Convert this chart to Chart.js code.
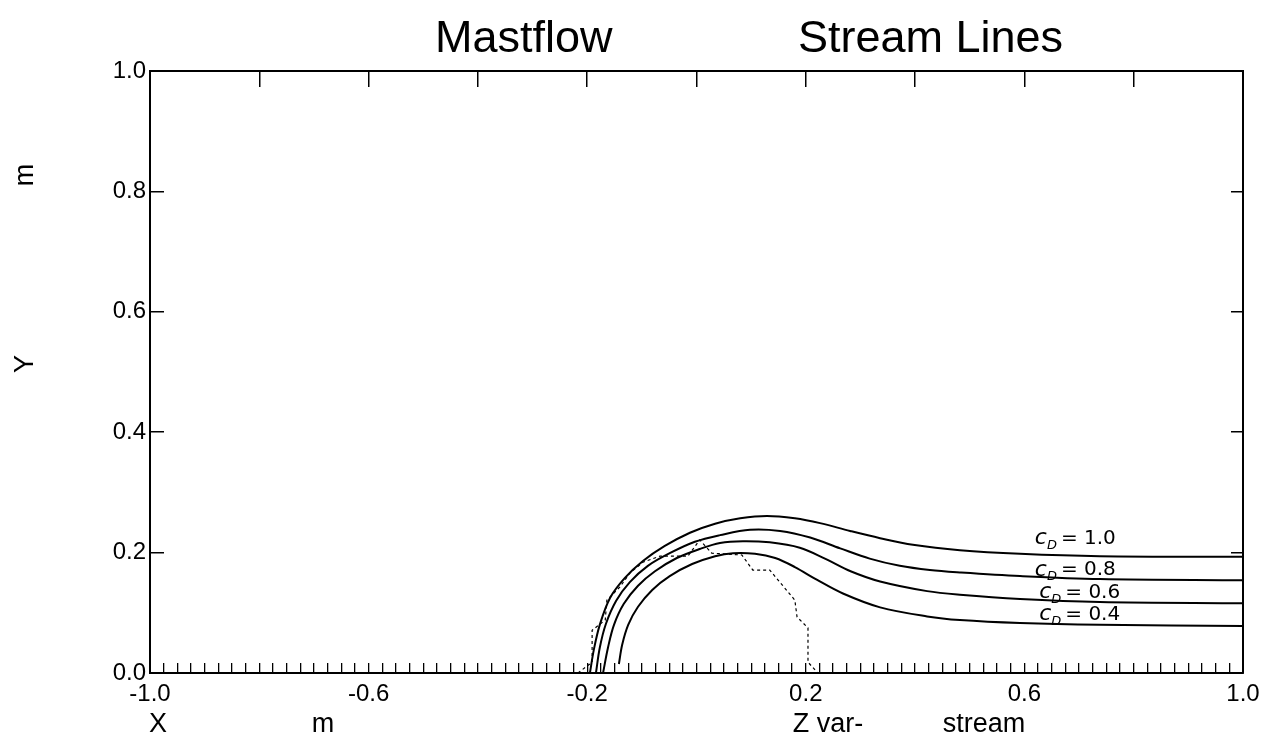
<!DOCTYPE html>
<html>
<head>
<meta charset="utf-8">
<script src="https://cdn.jsdelivr.net/npm/chart.js@4.4.1/dist/chart.umd.min.js"></script>
<style>
  html, body { margin: 0; padding: 0; background: #fff; }
  canvas { display: block; }
</style>
</head>
<body>
<canvas id="stream-chart" width="1270" height="742"></canvas>
<script>
// stream lines (x, y in metres)
const seriesNames = ["1.0", "0.8", "0.6", "0.4"];

const line1X = [-0.195, -0.188, -0.177, -0.158, -0.131, -0.098, -0.058, -0.012, 0.034, 0.080, 0.129, 0.180, 0.226, 0.281, 0.336, 0.396, 0.482, 0.592, 0.738, 1.0];
const line1Y = [0.0, 0.038, 0.080, 0.125, 0.158, 0.186, 0.211, 0.233, 0.248, 0.257, 0.261, 0.257, 0.249, 0.236, 0.224, 0.213, 0.204, 0.198, 0.194, 0.193];

const line2X = [-0.184, -0.177, -0.166, -0.147, -0.122, -0.089, -0.049, -0.003, 0.043, 0.098, 0.153, 0.208, 0.263, 0.317, 0.372, 0.427, 0.482, 0.592, 0.738, 1.0];
const line2Y = [0.0, 0.042, 0.081, 0.120, 0.151, 0.178, 0.199, 0.218, 0.229, 0.238, 0.236, 0.225, 0.207, 0.190, 0.178, 0.171, 0.167, 0.161, 0.156, 0.154];

const line3X = [-0.171, -0.162, -0.151, -0.133, -0.107, -0.076, -0.036, 0.006, 0.043, 0.085, 0.134, 0.189, 0.235, 0.282, 0.336, 0.422, 0.482, 0.592, 0.738, 1.0];
const line3Y = [0.0, 0.042, 0.080, 0.115, 0.145, 0.169, 0.191, 0.206, 0.216, 0.219, 0.217, 0.208, 0.190, 0.169, 0.152, 0.136, 0.130, 0.123, 0.118, 0.116];

const line4X = [-0.142, -0.136, -0.125, -0.107, -0.081, -0.049, -0.008, 0.034, 0.067, 0.107, 0.144, 0.180, 0.220, 0.268, 0.336, 0.422, 0.482, 0.592, 0.738, 1.0];
const line4Y = [0.015, 0.047, 0.080, 0.110, 0.138, 0.161, 0.181, 0.194, 0.199, 0.198, 0.191, 0.176, 0.155, 0.132, 0.109, 0.094, 0.088, 0.083, 0.080, 0.078];

// dashed outline under the stream lines
const dashX = [-0.217, -0.191, -0.191, -0.167, -0.164, -0.140, -0.122, -0.098, -0.067, -0.016, 0.006, 0.028, 0.083, 0.103, 0.134, 0.180, 0.184, 0.204, 0.204, 0.222];
const dashY = [0.0, 0.018, 0.071, 0.088, 0.121, 0.143, 0.166, 0.184, 0.194, 0.194, 0.221, 0.199, 0.196, 0.171, 0.171, 0.121, 0.093, 0.075, 0.018, 0.0];

// where the hand-written labels sit (data coordinates)
const labelX = [0.619, 0.619, 0.627, 0.627];
const labelY = [0.223, 0.171, 0.134, 0.097];

const xTickLabels = ["-1.0", "-0.6", "-0.2", "0.2", "0.6", "1.0"];
const yTickLabels = ["0.0", "0.2", "0.4", "0.6", "0.8", "1.0"];

const toPoints = (xs, ys) => xs.map((x, i) => ({ x: x, y: ys[i] }));

const streamLines = [
  toPoints(line1X, line1Y),
  toPoints(line2X, line2Y),
  toPoints(line3X, line3Y),
  toPoints(line4X, line4Y),
];

Chart.defaults.font.family = "'Liberation Sans', Arial, Helvetica, sans-serif";
Chart.defaults.color = "#000";

const datasets = streamLines.map((pts, i) => ({
  label: "cD = " + seriesNames[i],
  data: pts,
  borderColor: "#000",
  borderWidth: 2,
  pointRadius: 0,
  showLine: true,
  tension: 0.35,
}));

datasets.push({
  label: "outline",
  data: toPoints(dashX, dashY),
  borderColor: "#000",
  borderWidth: 1.2,
  borderDash: [3, 3],
  pointRadius: 0,
  showLine: true,
  tension: 0,
});

const textPlugin = {
  id: "plotText",
  afterDraw(chart) {
    const ctx = chart.ctx;
    const xs = chart.scales.x;
    const ys = chart.scales.y;
    ctx.save();
    ctx.fillStyle = "#000";
    ctx.textBaseline = "alphabetic";
    ctx.textAlign = "left";

    ctx.font = "45px 'Liberation Sans', Arial, sans-serif";
    ctx.fillText("Mastflow", 435, 52);
    ctx.fillText("Stream Lines", 798, 52);

    ctx.font = "27px 'Liberation Sans', Arial, sans-serif";
    ctx.textAlign = "center";
    ctx.fillText("X", 158, 732);
    ctx.fillText("m", 323, 732);
    ctx.fillText("Z var-", 828, 732);
    ctx.fillText("stream", 984, 732);

    ctx.save();
    ctx.translate(33, 0);
    ctx.rotate(-Math.PI / 2);
    ctx.fillText("m", -175, 0);
    ctx.fillText("Y", -364, 0);
    ctx.restore();

    // C_D labels by each stream line
    ctx.textAlign = "left";
    ctx.textBaseline = "middle";
    seriesNames.forEach((name, i) => {
      let px = xs.getPixelForValue(labelX[i]);
      const py = ys.getPixelForValue(labelY[i]);
      ctx.font = "italic 22px 'DejaVu Sans', sans-serif";
      ctx.fillText("c", px, py);
      px += ctx.measureText("c").width;
      ctx.font = "italic 13px 'DejaVu Sans', sans-serif";
      ctx.fillText("D", px, py + 7);
      px += ctx.measureText("D").width + 4;
      ctx.font = "20px 'DejaVu Sans', sans-serif";
      ctx.fillText("= " + name, px, py);
    });
    ctx.restore();
  },
};

const chartConfig = {
  type: "scatter",
  data: { datasets },
  options: {
    responsive: false,
    animation: false,
    layout: { padding: 0 },
    plugins: {
      legend: { display: false },
      tooltip: { enabled: false },
      title: { display: false },
    },
    scales: {
      x: {
        type: "linear",
        position: "bottom",
        min: -1,
        max: 1,
        ticks: {
          stepSize: 0.025,
          autoSkip: false,
          maxRotation: 0,
          padding: 17,
          font: { size: 24 },
          callback: (value) => {
            const k = (value + 1) / 0.4;
            const idx = Math.round(k);
            return Math.abs(k - idx) < 1e-6 ? xTickLabels[idx] : "";
          },
        },
        grid: { drawOnChartArea: false, tickLength: -10, color: "#000", lineWidth: 1.3 },
        border: { display: true, color: "#000", width: 2 },
        afterFit: (scale) => {
          scale.height = 69;
          scale.paddingLeft = 0;
          scale.paddingRight = 0;
        },
      },
      xTop: {
        type: "linear",
        position: "top",
        min: -1,
        max: 1,
        ticks: { stepSize: 0.2, display: false },
        grid: { drawOnChartArea: false, tickLength: -16, color: "#000", lineWidth: 1.5 },
        border: { display: true, color: "#000", width: 2 },
        afterFit: (scale) => {
          scale.height = 71;
          scale.paddingLeft = 0;
          scale.paddingRight = 0;
        },
      },
      y: {
        type: "linear",
        position: "left",
        min: 0,
        max: 1,
        ticks: {
          stepSize: 0.2,
          padding: 18,
          font: { size: 24 },
          callback: (value) => yTickLabels[Math.round(value / 0.2)],
        },
        grid: { drawOnChartArea: false, tickLength: -14, color: "#000", lineWidth: 1.5 },
        border: { display: true, color: "#000", width: 2 },
        afterFit: (scale) => { scale.width = 150; },
      },
      yRight: {
        type: "linear",
        position: "right",
        min: 0,
        max: 1,
        ticks: { stepSize: 0.2, display: false },
        grid: { drawOnChartArea: false, tickLength: -12, color: "#000", lineWidth: 1.5 },
        border: { display: true, color: "#000", width: 2 },
        afterFit: (scale) => { scale.width = 27; },
      },
    },
  },
  plugins: [textPlugin],
};

const streamChart = new Chart(document.getElementById("stream-chart"), chartConfig);
</script>
</body>
</html>
